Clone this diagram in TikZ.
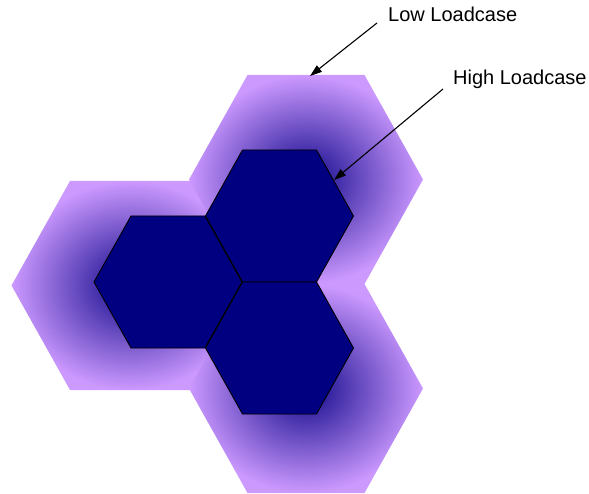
\documentclass[tikz,border=0pt]{standalone}
\usepackage{fontspec}
\setmainfont{Liberation Sans}
\usetikzlibrary{arrows.meta}
\definecolor{hexnavy}{HTML}{000080}
\definecolor{lilac}{HTML}{CC99FF}
\definecolor{glowcore}{HTML}{10088A}
\pgfdeclareradialshading{glow}{\pgfpoint{0bp}{0bp}}{color(0bp)=(glowcore);color(25bp)=(lilac);color(50bp)=(lilac)}
\tikzset{
  smallhex/.style={fill=hexnavy,draw=black,line width=0.9pt,line join=miter},
  bighex/.style={shading=glow},
  label/.style={font=\fontsize{20}{24}\selectfont,inner sep=0pt,anchor=base west},
  arr/.style={line width=1.1pt,-{Triangle[length=12pt,width=8pt]}}
}
% big hexagon: #1,#2 centre; #3 extra reach of the right-hand vertices
\newcommand{\bigH}[3]{(#1-117,#2) -- (#1-58.5,#2-104.5) -- (#1+58.5+#3,#2-104.5) -- (#1+117+#3,#2) -- (#1+58.5+#3,#2+104.5) -- (#1-58.5,#2+104.5) -- cycle}
\newcommand{\smallH}[2]{(#1-74,#2) -- (#1-37,#2-66) -- (#1+37,#2-66) -- (#1+74,#2) -- (#1+37,#2+66) -- (#1-37,#2+66) -- cycle}
\begin{document}
\begin{tikzpicture}[x=1pt,y=-1pt]
\useasboundingbox (0,0) rectangle (589,494);
% big glowing hexagons
\shade[bighex] \bigH{128.5}{285.5}{4};
\shade[bighex] \bigH{306}{179.5}{0};
\shade[bighex] \bigH{306}{388.5}{0};
% small dark hexagons
\draw[smallhex] \smallH{279.5}{216};
\draw[smallhex] \smallH{168}{282};
\draw[smallhex] \smallH{279.5}{348};
% labels
\node[label] (low) at (388,22) {Low Loadcase};
\node[label] (high) at (453,85) {High Loadcase};
\coordinate (lowstart) at (377,23);
\coordinate (lowtip) at (310,76);
\coordinate (highstart) at (443,89);
\coordinate (hightip) at (334,180);
\draw[arr] (lowstart) -- (lowtip);
\draw[arr] (highstart) -- (hightip);
\end{tikzpicture}
\end{document}
